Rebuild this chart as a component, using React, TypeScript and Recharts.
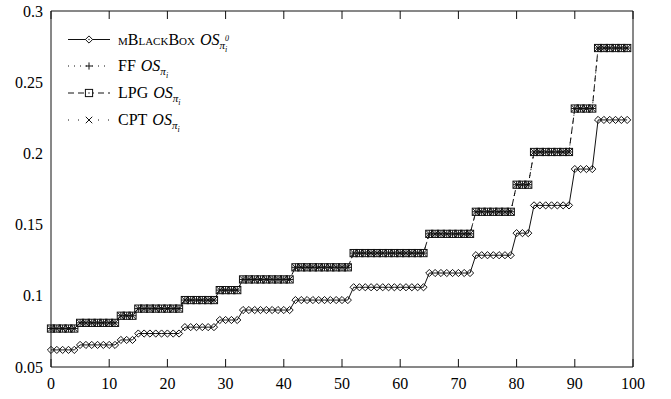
import React from 'react';
import { LineChart, Line, XAxis, YAxis, Legend } from 'recharts';

const xs = [
  0, 1, 2, 3, 4, 5, 6, 7, 8, 9, 10, 11, 12, 13, 14, 15, 16, 17, 18, 19,
  20, 21, 22, 23, 24, 25, 26, 27, 28, 29, 30, 31, 32, 33, 34, 35, 36, 37, 38, 39,
  40, 41, 42, 43, 44, 45, 46, 47, 48, 49, 50, 51, 52, 53, 54, 55, 56, 57, 58, 59,
  60, 61, 62, 63, 64, 65, 66, 67, 68, 69, 70, 71, 72, 73, 74, 75, 76, 77, 78, 79,
  80, 81, 82, 83, 84, 85, 86, 87, 88, 89, 90, 91, 92, 93, 94, 95, 96, 97, 98, 99,
];

const mBlackBox = [
  0.062, 0.062, 0.062, 0.062, 0.062,
  0.0655, 0.0655, 0.0655, 0.0655, 0.0655, 0.0655, 0.0655,
  0.069, 0.069, 0.069,
  0.0735, 0.0735, 0.0735, 0.0735, 0.0735, 0.0735, 0.0735, 0.0735,
  0.078, 0.078, 0.078, 0.078, 0.078, 0.078,
  0.083, 0.083, 0.083, 0.083,
  0.09, 0.09, 0.09, 0.09, 0.09, 0.09, 0.09, 0.09, 0.09,
  0.097, 0.097, 0.097, 0.097, 0.097, 0.097, 0.097, 0.097, 0.097, 0.097,
  0.106, 0.106, 0.106, 0.106, 0.106, 0.106, 0.106, 0.106, 0.106, 0.106, 0.106, 0.106, 0.106,
  0.116, 0.116, 0.116, 0.116, 0.116, 0.116, 0.116, 0.116,
  0.1285, 0.1285, 0.1285, 0.1285, 0.1285, 0.1285, 0.1285,
  0.144, 0.144, 0.144,
  0.1635, 0.1635, 0.1635, 0.1635, 0.1635, 0.1635, 0.1635,
  0.189, 0.189, 0.189, 0.189,
  0.2235, 0.2235, 0.2235, 0.2235, 0.2235, 0.2235,
];

const ff = [
  0.077, 0.077, 0.077, 0.077, 0.077,
  0.081, 0.081, 0.081, 0.081, 0.081, 0.081, 0.081,
  0.086, 0.086, 0.086,
  0.091, 0.091, 0.091, 0.091, 0.091, 0.091, 0.091, 0.091,
  0.097, 0.097, 0.097, 0.097, 0.097, 0.097,
  0.104, 0.104, 0.104, 0.104,
  0.1115, 0.1115, 0.1115, 0.1115, 0.1115, 0.1115, 0.1115, 0.1115, 0.1115,
  0.12, 0.12, 0.12, 0.12, 0.12, 0.12, 0.12, 0.12, 0.12, 0.12,
  0.13, 0.13, 0.13, 0.13, 0.13, 0.13, 0.13, 0.13, 0.13, 0.13, 0.13, 0.13, 0.13,
  0.1435, 0.1435, 0.1435, 0.1435, 0.1435, 0.1435, 0.1435, 0.1435,
  0.159, 0.159, 0.159, 0.159, 0.159, 0.159, 0.159,
  0.178, 0.178, 0.178,
  0.201, 0.201, 0.201, 0.201, 0.201, 0.201, 0.201,
  0.2315, 0.2315, 0.2315, 0.2315,
  0.274, 0.274, 0.274, 0.274, 0.274, 0.274,
];

const lpg = [
  0.077, 0.077, 0.077, 0.077, 0.077,
  0.081, 0.081, 0.081, 0.081, 0.081, 0.081, 0.081,
  0.086, 0.086, 0.086,
  0.091, 0.091, 0.091, 0.091, 0.091, 0.091, 0.091, 0.091,
  0.097, 0.097, 0.097, 0.097, 0.097, 0.097,
  0.104, 0.104, 0.104, 0.104,
  0.1115, 0.1115, 0.1115, 0.1115, 0.1115, 0.1115, 0.1115, 0.1115, 0.1115,
  0.12, 0.12, 0.12, 0.12, 0.12, 0.12, 0.12, 0.12, 0.12, 0.12,
  0.13, 0.13, 0.13, 0.13, 0.13, 0.13, 0.13, 0.13, 0.13, 0.13, 0.13, 0.13, 0.13,
  0.1435, 0.1435, 0.1435, 0.1435, 0.1435, 0.1435, 0.1435, 0.1435,
  0.159, 0.159, 0.159, 0.159, 0.159, 0.159, 0.159,
  0.178, 0.178, 0.178,
  0.201, 0.201, 0.201, 0.201, 0.201, 0.201, 0.201,
  0.2315, 0.2315, 0.2315, 0.2315,
  0.274, 0.274, 0.274, 0.274, 0.274, 0.274,
];

const cpt = [
  0.077, 0.077, 0.077, 0.077, 0.077,
  0.081, 0.081, 0.081, 0.081, 0.081, 0.081, 0.081,
  0.086, 0.086, 0.086,
  0.091, 0.091, 0.091, 0.091, 0.091, 0.091, 0.091, 0.091,
  0.097, 0.097, 0.097, 0.097, 0.097, 0.097,
  0.104, 0.104, 0.104, 0.104,
  0.1115, 0.1115, 0.1115, 0.1115, 0.1115, 0.1115, 0.1115, 0.1115, 0.1115,
  0.12, 0.12, 0.12, 0.12, 0.12, 0.12, 0.12, 0.12, 0.12, 0.12,
  0.13, 0.13, 0.13, 0.13, 0.13, 0.13, 0.13, 0.13, 0.13, 0.13, 0.13, 0.13, 0.13,
  0.1435, 0.1435, 0.1435, 0.1435, 0.1435, 0.1435, 0.1435, 0.1435,
  0.159, 0.159, 0.159, 0.159, 0.159, 0.159, 0.159,
  0.178, 0.178, 0.178,
  0.201, 0.201, 0.201, 0.201, 0.201, 0.201, 0.201,
  0.2315, 0.2315, 0.2315, 0.2315,
  0.274, 0.274, 0.274, 0.274, 0.274, 0.274,
];

const xTicks = [0, 10, 20, 30, 40, 50, 60, 70, 80, 90, 100];
const yTicks = [0.05, 0.1, 0.15, 0.2, 0.25, 0.3];
const seriesNames = ['mBlackBox', 'FF', 'LPG', 'CPT'];

const data = xs.map((x, i) => ({
  x,
  mbb: mBlackBox[i],
  ff: ff[i],
  lpg: lpg[i],
  cpt: cpt[i],
}));

const FONT = "'Liberation Serif', 'Times New Roman', serif";
const INK = '#111';
const S = 3.6;

const diamondPath = (cx: number, cy: number) =>
  `M${cx},${cy - S}L${cx + S},${cy}L${cx},${cy + S}L${cx - S},${cy}Z`;

const DiamondDot = (p: any) => {
  const { cx, cy, index } = p;
  if (cx == null || cy == null) return <g key={`dd${index}`} />;
  return <path key={`dd${index}`} d={diamondPath(cx, cy)} fill="none" stroke={INK} strokeWidth={1} />;
};

const PlusDot = (p: any) => {
  const { cx, cy, index } = p;
  if (cx == null || cy == null) return <g key={`pd${index}`} />;
  return (
    <path key={`pd${index}`} d={`M${cx - S},${cy}H${cx + S}M${cx},${cy - S}V${cy + S}`} stroke={INK} strokeWidth={1} fill="none" />
  );
};

const BoxDot = (p: any) => {
  const { cx, cy, index } = p;
  if (cx == null || cy == null) return <g key={`bd${index}`} />;
  return (
    <g key={`bd${index}`}>
      <rect x={cx - S} y={cy - S} width={2 * S} height={2 * S} fill="none" stroke={INK} strokeWidth={1} />
      <rect x={cx - 0.6} y={cy - 0.6} width={1.2} height={1.2} fill={INK} />
    </g>
  );
};

const CrossDot = (p: any) => {
  const { cx, cy, index } = p;
  if (cx == null || cy == null) return <g key={`cd${index}`} />;
  const t = S * 0.9;
  return (
    <path key={`cd${index}`} d={`M${cx - t},${cy - t}L${cx + t},${cy + t}M${cx - t},${cy + t}L${cx + t},${cy - t}`} stroke={INK} strokeWidth={1} fill="none" />
  );
};

const legendRows = [
  { name: seriesNames[0], dash: undefined as string | undefined, marker: 'diamond', sup: true },
  { name: seriesNames[1], dash: '1 5', marker: 'plus', sup: false },
  { name: seriesNames[2], dash: '6 4', marker: 'box', sup: false },
  { name: seriesNames[3], dash: '1 9', marker: 'cross', sup: false },
];

const renderMarker = (m: string, cx: number, cy: number) => {
  if (m === 'diamond')
    return (
      <g>
        <path d={diamondPath(cx, cy)} fill="#fff" stroke={INK} strokeWidth={1} />
        <rect x={cx - 0.6} y={cy - 0.6} width={1.2} height={1.2} fill={INK} />
      </g>
    );
  if (m === 'plus') return PlusDot({ cx, cy, index: 'l' });
  if (m === 'box')
    return (
      <g>
        <rect x={cx - S} y={cy - S} width={2 * S} height={2 * S} fill="#fff" stroke={INK} strokeWidth={1} />
        <rect x={cx - 0.6} y={cy - 0.6} width={1.2} height={1.2} fill={INK} />
      </g>
    );
  return CrossDot({ cx, cy, index: 'l' });
};

const LegendContent = () => {
  const rowY = [39.5, 66, 93, 120];
  return (
    <svg width={400} height={140} style={{ display: 'block', overflow: 'visible' }}>
      {legendRows.map((r, i) => {
        const y = rowY[i];
        return (
          <g key={r.name}>
            <line x1={68} x2={110} y1={y} y2={y} stroke={INK} strokeWidth={1} strokeDasharray={r.dash} />
            {renderMarker(r.marker, 89, y)}
            <text x={118} y={y + 5} fontFamily={FONT} fontSize={16} fill="#000">
              <tspan style={{ fontVariant: r.sup ? 'small-caps' : 'normal' }}>{r.name}</tspan>
              <tspan fontStyle="italic" dx={5}>OS</tspan>
              <tspan fontStyle="italic" fontSize={11} dy={4}>π</tspan>
              {r.sup ? (
                <>
                  <tspan fontStyle="italic" fontSize={8} dy={-8}>0</tspan>
                  <tspan fontStyle="italic" fontSize={8} dx={-4} dy={11}>i</tspan>
                </>
              ) : (
                <tspan fontStyle="italic" fontSize={8} dy={3}>i</tspan>
              )}
            </text>
          </g>
        );
      })}
    </svg>
  );
};

const tickStyle = { fontFamily: FONT, fontSize: 16, fill: '#000' };
const empty = () => '';
const frameLine = { stroke: INK, strokeWidth: 1 };

export default function App() {
  return (
    <div style={{ position: 'absolute', left: 0, top: 0, width: 671, height: 399, background: '#fff', fontFamily: FONT }}>
      <LineChart
        width={671}
        height={399}
        data={data}
        margin={{ top: 11, right: 38, bottom: 0, left: 0 }}
        style={{ fontFamily: FONT }}
      >
        {/* label axes */}
        <XAxis
          xAxisId="b"
          dataKey="x"
          type="number"
          domain={[0, 100]}
          ticks={xTicks}
          interval={0}
          height={32}
          tickSize={0}
          tickMargin={11}
          tick={tickStyle}
          axisLine={false}
          tickLine={false}
        />
        <YAxis
          yAxisId="l"
          type="number"
          domain={[0.05, 0.3]}
          ticks={yTicks}
          interval={0}
          width={51}
          tickSize={0}
          tickMargin={8}
          tick={tickStyle}
          axisLine={false}
          tickLine={false}
        />
        {/* frame with inward ticks */}
        <XAxis
          xAxisId="bm"
          orientation="bottom"
          mirror
          dataKey="x"
          type="number"
          domain={[0, 100]}
          ticks={xTicks}
          interval={0}
          height={8}
          tickSize={8}
          tickFormatter={empty}
          axisLine={frameLine}
          tickLine={frameLine}
        />
        <XAxis
          xAxisId="tm"
          orientation="top"
          mirror
          dataKey="x"
          type="number"
          domain={[0, 100]}
          ticks={xTicks}
          interval={0}
          height={8}
          tickSize={8}
          tickFormatter={empty}
          axisLine={frameLine}
          tickLine={frameLine}
        />
        <YAxis
          yAxisId="lm"
          orientation="left"
          mirror
          type="number"
          domain={[0.05, 0.3]}
          ticks={yTicks}
          interval={0}
          width={8}
          tickSize={8}
          tickFormatter={empty}
          axisLine={frameLine}
          tickLine={frameLine}
        />
        <YAxis
          yAxisId="rm"
          orientation="right"
          mirror
          type="number"
          domain={[0.05, 0.3]}
          ticks={yTicks}
          interval={0}
          width={8}
          tickSize={8}
          tickFormatter={empty}
          axisLine={frameLine}
          tickLine={frameLine}
        />
        <Legend
          layout="horizontal"
          verticalAlign="middle"
          align="center"
          content={LegendContent}
          wrapperStyle={{ left: 0, top: 0, width: 400, height: 140 }}
        />
        <Line
          xAxisId="b"
          yAxisId="l"
          dataKey="ff"
          name={seriesNames[1]}
          stroke={INK}
          strokeWidth={1}
          strokeDasharray="1 5"
          dot={PlusDot}
          activeDot={false}
          isAnimationActive={false}
        />
        <Line
          xAxisId="b"
          yAxisId="l"
          dataKey="lpg"
          name={seriesNames[2]}
          stroke={INK}
          strokeWidth={1}
          strokeDasharray="6 4"
          dot={BoxDot}
          activeDot={false}
          isAnimationActive={false}
        />
        <Line
          xAxisId="b"
          yAxisId="l"
          dataKey="cpt"
          name={seriesNames[3]}
          stroke={INK}
          strokeWidth={1}
          strokeDasharray="1 9"
          dot={CrossDot}
          activeDot={false}
          isAnimationActive={false}
        />
        <Line
          xAxisId="b"
          yAxisId="l"
          dataKey="mbb"
          name={seriesNames[0]}
          stroke={INK}
          strokeWidth={1}
          dot={DiamondDot}
          activeDot={false}
          isAnimationActive={false}
        />
      </LineChart>
    </div>
  );
}
